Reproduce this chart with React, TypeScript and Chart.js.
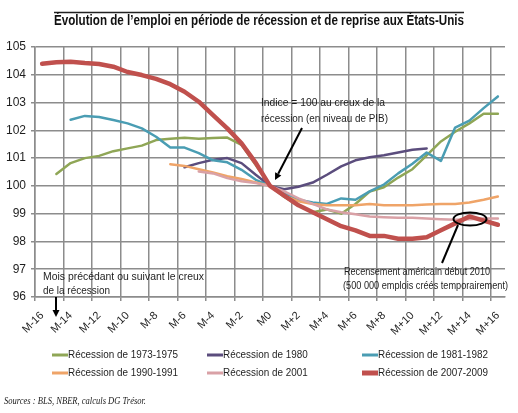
import React, { useEffect, useRef } from "react";
import { Chart, registerables } from "chart.js";

Chart.register(...registerables);

const months = [
  "M-16", "M-15", "M-14", "M-13", "M-12", "M-11", "M-10", "M-9", "M-8", "M-7", "M-6",
  "M-5", "M-4", "M-3", "M-2", "M-1", "M0", "M+1", "M+2", "M+3", "M+4", "M+5", "M+6",
  "M+7", "M+8", "M+9", "M+10", "M+11", "M+12", "M+13", "M+14", "M+15", "M+16",
];

const rec1973 = [
  null, 100.43, 100.82, 101.0, 101.08, 101.25, 101.35, 101.45, 101.65, 101.7, 101.73,
  101.7, 101.72, 101.74, 101.48, 100.75, 100, 99.6, 99.3, 99.05, 99.15, 99.0, 99.35,
  99.8, 99.95, 100.3, 100.6, 101.1, 101.6, 101.95, 102.25, 102.6, 102.6,
];
const rec1980 = [
  null, null, null, null, null, null, null, null, null, null, 100.67,
  100.82, 100.94, 101.0, 100.82, 100.4, 100, 99.88, 99.97, 100.12, 100.4, 100.7, 100.92,
  101.03, 101.1, 101.2, 101.3, 101.35, null, null, null, null, null,
];
const rec1981 = [
  null, null, 102.38, 102.52, 102.48, 102.37, 102.25, 102.07, 101.77, 101.38, 101.38,
  101.18, 100.92, 100.85, 100.58, 100.22, 100, 99.75, 99.5, 99.4, 99.35, 99.55, 99.5,
  99.8, 100.05, 100.45, 100.8, 101.2, 100.9, 102.1, 102.35, 102.8, 103.22,
];
const rec1990 = [
  null, null, null, null, null, null, null, null, null, 100.78, 100.72,
  100.6, 100.48, 100.35, 100.25, 100.12, 100, 99.65, 99.45, 99.35, 99.3, 99.3, 99.3,
  99.35, 99.3, 99.3, 99.3, 99.33, 99.35, 99.35, 99.4, 99.5, 99.62,
];
const rec2001 = [
  null, null, null, null, null, null, null, null, null, null, null,
  100.52, 100.45, 100.28, 100.17, 100.1, 100, 99.8, 99.55, 99.35, 99.15, 99.05, 98.98,
  98.9, 98.87, 98.85, 98.85, 98.83, 98.8, 98.78, 98.8, 98.83, 98.83,
];
const rec2007 = [
  104.4, 104.45, 104.47, 104.42, 104.39, 104.29, 104.1, 103.99, 103.85, 103.66, 103.39,
  103.03, 102.55, 102.07, 101.53, 100.83, 100, 99.65, 99.3, 99.05, 98.8, 98.55, 98.4,
  98.2, 98.2, 98.1, 98.1, 98.15, 98.4, 98.65, 98.9, 98.75, 98.6,
];

const seriesLabels = [
  "Récession de 1973-1975",
  "Récession de 1980",
  "Récession de 1981-1982",
  "Récession de 1990-1991",
  "Récession de 2001",
  "Récession de 2007-2009",
];
const seriesValues = [rec1973, rec1980, rec1981, rec1990, rec2001, rec2007];
const seriesColors = ["#8fa656", "#5b4d7d", "#4a9db3", "#efa468", "#d9a1a6", "#c0504d"];
const seriesWidths = [2.5, 2.5, 2.5, 2.5, 2.5, 4.5];

const titleText = "Évolution de l’emploi en période de récession et de reprise aux États-Unis";
const sourceText = "Sources : BLS, NBER, calculs DG Trésor.";
const note1 = ["Indice = 100 au creux de la", "récession (en niveau de PIB)"];
const note2 = ["Mois précédant ou suivant le creux", "de la récession"];
const note3 = ["Recensement américain début 2010", "(500 000 emplois créés temporairement)"];

const FONT = "'Liberation Sans', Arial, sans-serif";
const GRID = "#8c8c8c";
const TEXT = "#1e1e1e";

function fitText(ctx: CanvasRenderingContext2D, text: string, x: number, y: number, w: number, font: string, color = TEXT) {
  ctx.save();
  ctx.font = font;
  const m = ctx.measureText(text).width;
  const s = w / m;
  ctx.translate(x, y);
  ctx.scale(s, 1);
  ctx.fillStyle = color;
  ctx.textAlign = "left";
  ctx.textBaseline = "middle";
  ctx.fillText(text, 0, 0);
  ctx.restore();
}

function arrow(ctx: CanvasRenderingContext2D, x1: number, y1: number, x2: number, y2: number) {
  const ang = Math.atan2(y2 - y1, x2 - x1);
  const hl = 7;
  const hw = 3.5;
  const bx = x2 - hl * Math.cos(ang);
  const by = y2 - hl * Math.sin(ang);
  ctx.save();
  ctx.strokeStyle = "#000";
  ctx.fillStyle = "#000";
  ctx.lineWidth = 2;
  ctx.beginPath();
  ctx.moveTo(x1, y1);
  ctx.lineTo(bx, by);
  ctx.stroke();
  ctx.beginPath();
  ctx.moveTo(x2, y2);
  ctx.lineTo(bx + hw * Math.sin(ang), by - hw * Math.cos(ang));
  ctx.lineTo(bx - hw * Math.sin(ang), by + hw * Math.cos(ang));
  ctx.closePath();
  ctx.fill();
  ctx.restore();
}

const decor = {
  id: "decor",
  afterDraw(chart: any) {
    const ctx: CanvasRenderingContext2D = chart.ctx;
    // Title with overline
    ctx.save();
    ctx.strokeStyle = "#222";
    ctx.lineWidth = 1.5;
    ctx.beginPath();
    ctx.moveTo(54, 12.5);
    ctx.lineTo(464, 12.5);
    ctx.stroke();
    ctx.restore();
    fitText(ctx, titleText, 54, 21, 410, `bold 14px ${FONT}`, "#111");

    // Annotation 1
    fitText(ctx, note1[0], 261, 103, 124, `11px ${FONT}`);
    fitText(ctx, note1[1], 261, 119, 127, `11px ${FONT}`);
    arrow(ctx, 302, 128, 275, 180);

    // Annotation 2
    fitText(ctx, note2[0], 43, 277, 161, `11px ${FONT}`);
    fitText(ctx, note2[1], 43, 291, 67, `11px ${FONT}`);
    arrow(ctx, 56, 297, 56, 317);

    // Annotation 3
    fitText(ctx, note3[0], 344, 272, 146, `11px ${FONT}`);
    fitText(ctx, note3[1], 343, 286, 165, `11px ${FONT}`);
    ctx.save();
    ctx.strokeStyle = "#000";
    ctx.lineWidth = 2;
    ctx.beginPath();
    ctx.ellipse(470, 219, 16.5, 6.5, 0, 0, Math.PI * 2);
    ctx.stroke();
    ctx.beginPath();
    ctx.moveTo(458, 225);
    ctx.lineTo(442, 263);
    ctx.stroke();
    ctx.restore();

    // Legend
    const cols = [52, 207, 362];
    const rows = [355, 373];
    ctx.save();
    ctx.font = `11px ${FONT}`;
    const scale = 110 / ctx.measureText(seriesLabels[0]).width;
    ctx.restore();
    chart.data.datasets.forEach((ds: any, i: number) => {
      const col = i % 3;
      const row = Math.floor(i / 3);
      const x = cols[col];
      const y = rows[row];
      ctx.save();
      ctx.strokeStyle = ds.borderColor;
      ctx.lineWidth = ds.borderWidth + 0.5;
      ctx.beginPath();
      ctx.moveTo(x, y);
      ctx.lineTo(x + 16, y);
      ctx.stroke();
      ctx.restore();
      ctx.save();
      ctx.font = `11px ${FONT}`;
      const w = ctx.measureText(ds.label).width * scale;
      ctx.restore();
      fitText(ctx, ds.label, x + 16, y, w, `11px ${FONT}`);
    });

    // Sources
    fitText(ctx, sourceText, 4, 401, 142, `italic 10px 'Liberation Serif', serif`, "#222");
  },
};

export default function App() {
  const ref = useRef<HTMLCanvasElement>(null);
  useEffect(() => {
    if (!ref.current) return;
    const chart = new Chart(ref.current, {
      type: "line",
      data: {
        labels: months,
        datasets: seriesLabels.map((label, i) => ({
          label,
          data: seriesValues[i],
          borderColor: seriesColors[i],
          backgroundColor: seriesColors[i],
          borderWidth: seriesWidths[i],
          pointRadius: 0,
          tension: 0,
          spanGaps: false,
          borderJoinStyle: "round" as const,
          borderCapStyle: "round" as const,
          order: 6 - i,
        })),
      },
      options: {
        responsive: false,
        animation: false,
        devicePixelRatio: 1,
        layout: { padding: { left: 0, right: 13, top: 47, bottom: 66 } },
        plugins: {
          legend: { display: false },
          title: { display: false },
          tooltip: { enabled: false },
        },
        scales: {
          x: {
            type: "category",
            offset: true,
            grid: {
              offset: true,
              color: (c: any) => (typeof c.index === "number" && c.index % 2 === 0 ? GRID : "rgba(0,0,0,0)"),
              lineWidth: 1.5,
              tickLength: 4,
            },
            border: { color: GRID, width: 1.5 },
            ticks: {
              autoSkip: false,
              maxRotation: 45,
              minRotation: 45,
              padding: 8,
              color: TEXT,
              font: { family: FONT, size: 11 },
              callback: (_v: any, i: number) => (i % 2 === 0 ? months[i] : ""),
            },
            afterFit: (s: any) => {
              s.height = 50;
            },
          },
          y: {
            min: 96,
            max: 105,
            grid: { color: GRID, lineWidth: 1.5, tickLength: 4 },
            border: { color: GRID, width: 1.5 },
            ticks: {
              stepSize: 1,
              padding: 5,
              color: TEXT,
              font: { family: FONT, size: 12 },
            },
            afterFit: (s: any) => {
              s.width = 35;
            },
          },
        },
      },
      plugins: [decor],
    });
    return () => chart.destroy();
  }, []);
  return (
    <div style={{ position: "absolute", left: 0, top: 0, width: 518, height: 413, background: "#fff" }}>
      <canvas ref={ref} width={518} height={413} style={{ width: 518, height: 413 }} />
    </div>
  );
}
